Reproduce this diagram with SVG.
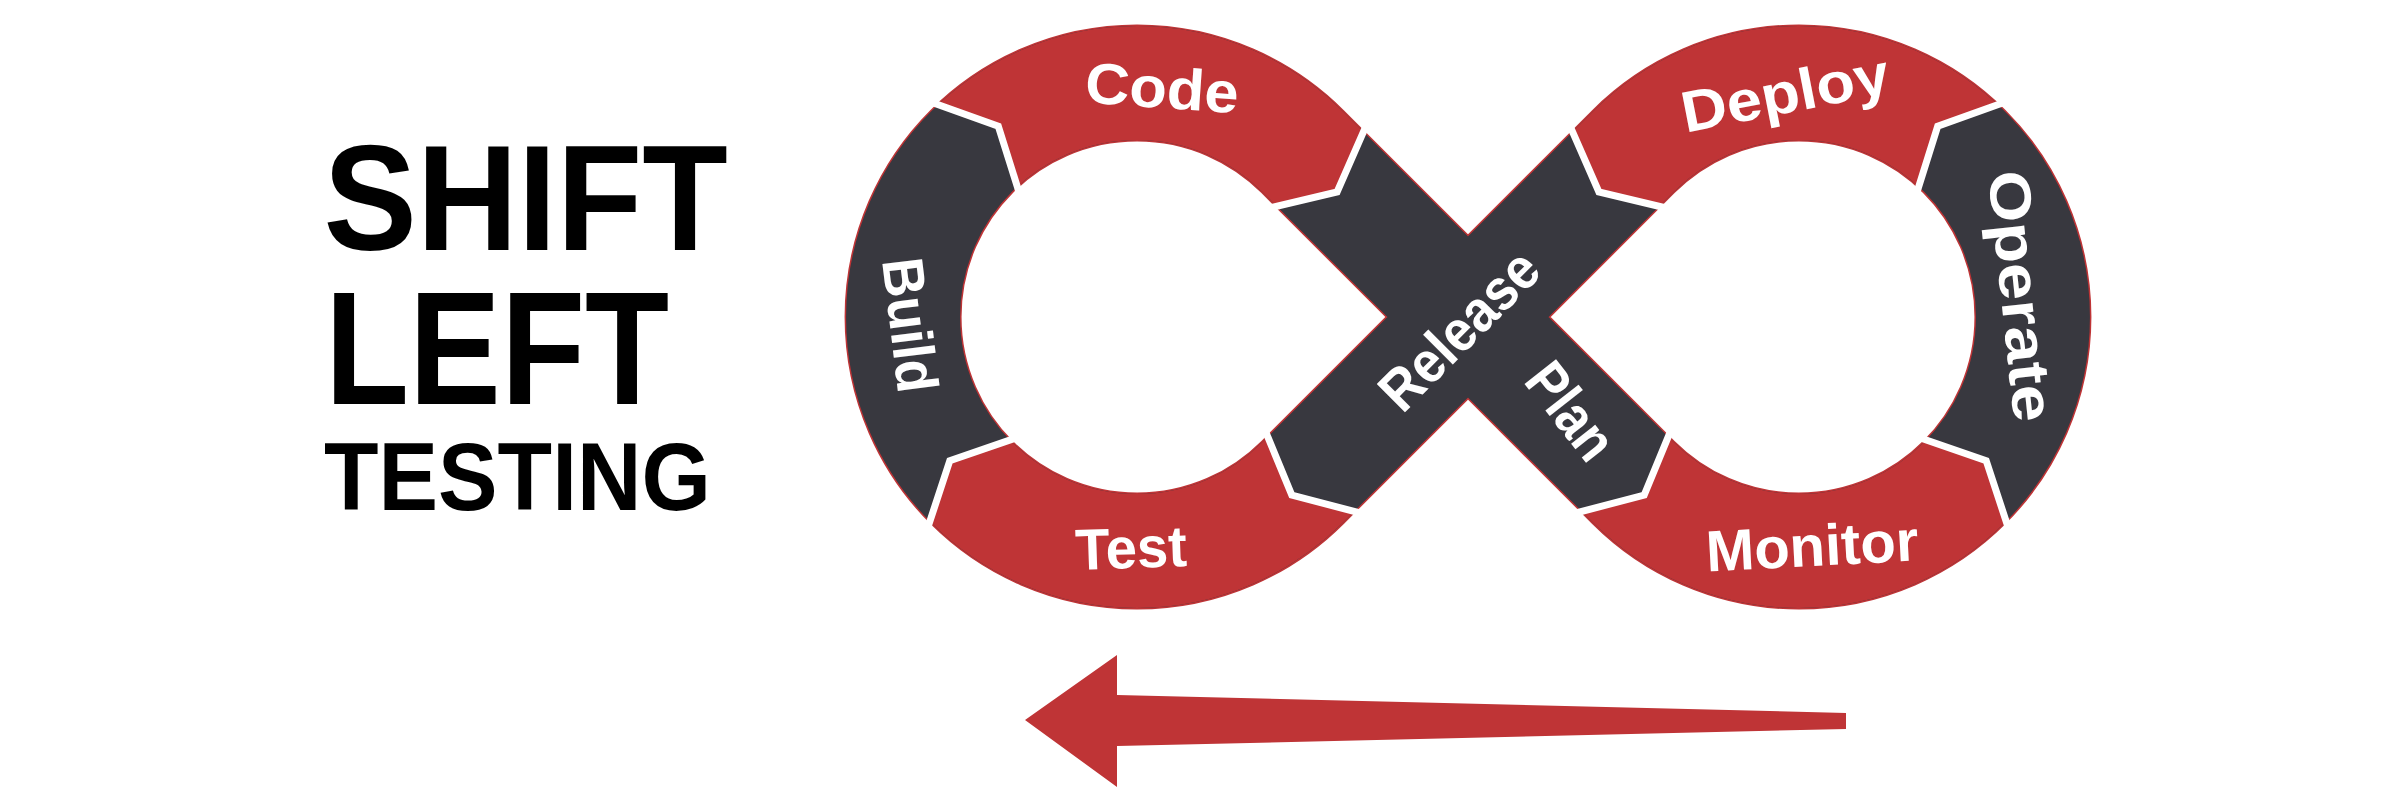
<svg xmlns="http://www.w3.org/2000/svg" width="2398" height="802" viewBox="0 0 2398 802">
<style>
.title{font-family:"Liberation Sans",Arial,sans-serif;font-weight:700;fill:#000}
.lbl{font-family:"Liberation Sans",Arial,sans-serif;font-weight:700;font-size:58px;fill:#fff;text-anchor:middle}
.band{fill:none;stroke-width:114}
.edge{fill:none;stroke:#BF3436;stroke-width:117}
.red{stroke:#BF3436}
.dark{stroke:#38383F}
.sep{fill:none;stroke:#fff;stroke-width:7;stroke-linejoin:miter}
.arrow{fill:#BF3436}
</style>
<defs>
<path id="inf" d="M 1468 317 L 1302.5 151.5 A 234 234 0 1 0 1302.5 482.5 L 1633.5 151.5 A 234 234 0 1 1 1633.5 482.5 Z"/>
<clipPath id="clip-code"><polygon points="1137,317 1020.3,196.2 998.3,126.1 928.6,101.2 845.2,14.9 993.4,-77.7 1137,-103 1280.6,-77.7 1458.7,47 1366.8,124.2 1337.1,191.9 1265.7,209"/></clipPath>
<clipPath id="clip-test"><polygon points="1137,317 1263.8,427.2 1291.8,495.1 1363.4,513.8 1454,592.6 1280.6,711.7 1137,737 993.4,711.7 842.6,616.6 926.7,531 949.8,460.7 1019.2,436.8"/></clipPath>
<clipPath id="clip-monitor"><polygon points="1799,317 1672.2,427.2 1644.2,495.1 1572.6,513.8 1482,592.6 1655.4,711.7 1799,737 1942.6,711.7 2093.4,616.6 2009.3,531 1986.2,460.7 1916.8,436.8"/></clipPath>
<clipPath id="clip-deploy"><polygon points="1799,317 1915.7,196.2 1937.7,126.1 2007.4,101.2 2090.8,14.9 1942.6,-77.7 1799,-103 1655.4,-77.7 1477.3,47 1569.2,124.2 1598.9,191.9 1670.3,209"/></clipPath>
</defs>
<rect width="2398" height="802" fill="#fff"/>
<g id="title">
<text class="title" font-size="151" transform="translate(323.4,250) scale(0.927,1)">SHIFT</text>
<text class="title" font-size="162" transform="translate(325,404) scale(0.85,1)">LEFT</text>
<text class="title" font-size="96" transform="translate(324,510) scale(0.93,1)">TESTING</text>
</g>
<g id="loop-base">
<use href="#inf" class="edge"/>
<use href="#inf" class="band dark"/>
</g>
<g id="node-code">
<use href="#inf" class="band red" clip-path="url(#clip-code)"/>
<text class="lbl" transform="translate(1162,88) rotate(4) scale(1.06,1)" y="20">Code</text>
</g>
<g id="node-build">
<text class="lbl" transform="translate(910,325) rotate(83) scale(0.93,1)" y="20">Build</text>
</g>
<g id="node-test">
<use href="#inf" class="band red" clip-path="url(#clip-test)"/>
<text class="lbl" transform="translate(1131,548) rotate(-2) scale(0.97,1)" y="20">Test</text>
</g>
<g id="node-release">
<text class="lbl" transform="translate(1459,330) rotate(-45) scale(0.91,1)" y="20">Release</text>
</g>
<g id="node-deploy">
<use href="#inf" class="band red" clip-path="url(#clip-deploy)"/>
<text class="lbl" transform="translate(1785,93) rotate(-11) scale(1.09,1)" y="20">Deploy</text>
</g>
<g id="node-operate">
<text class="lbl" transform="translate(2021,296) rotate(84) scale(1.15,1)" y="20">Operate</text>
</g>
<g id="node-monitor">
<use href="#inf" class="band red" clip-path="url(#clip-monitor)"/>
<text class="lbl" transform="translate(1812,546) rotate(-3)" y="20">Monitor</text>
</g>
<g id="node-plan">
<text class="lbl" transform="translate(1571,411) rotate(52) scale(0.87,1)" y="20">Plan</text>
</g>
<g id="connectors">
<polyline class="sep" points="1363.4,513.8 1291.8,495.1 1263.8,427.2"/>
<polyline class="sep" points="926.7,531 949.8,460.7 1019.2,436.8"/>
<polyline class="sep" points="928.6,101.2 998.3,126.1 1020.3,196.2"/>
<polyline class="sep" points="1366.8,124.2 1337.1,191.9 1265.7,209"/>
<polyline class="sep" points="1572.6,513.8 1644.2,495.1 1672.2,427.2"/>
<polyline class="sep" points="2009.3,531 1986.2,460.7 1916.8,436.8"/>
<polyline class="sep" points="2007.4,101.2 1937.7,126.1 1915.7,196.2"/>
<polyline class="sep" points="1569.2,124.2 1598.9,191.9 1670.3,209"/>
<polygon id="shift-arrow" class="arrow" points="1025,720 1117,655 1117,695 1846,713 1846,729 1117,746 1117,787"/>
</g>
</svg>
